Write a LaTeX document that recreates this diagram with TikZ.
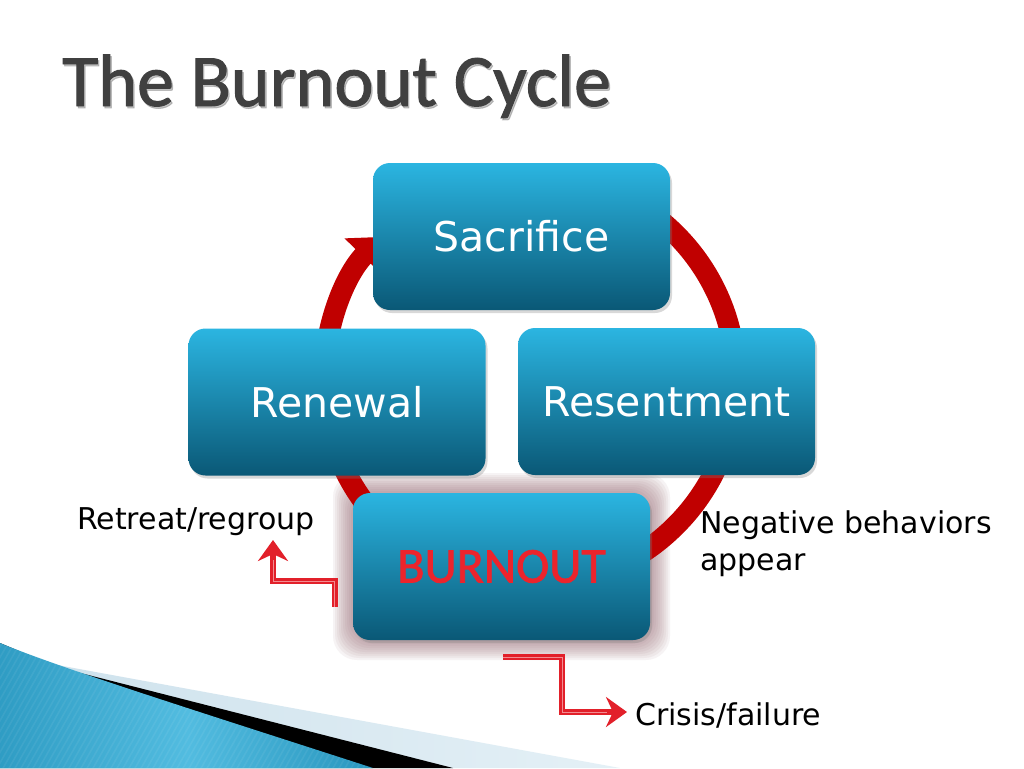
\documentclass[tikz,border=0pt]{standalone}
\usepackage{fontspec}
\setmainfont{DejaVu Sans}
\newfontfamily\titlefont[FakeBold=1.3]{Carlito}
\newfontfamily\burnfont[FakeBold=1.6]{Carlito}
\usetikzlibrary{arrows.meta,shadows,calc}
\definecolor{boxtop}{RGB}{43,181,225}
\definecolor{boxmid}{RGB}{20,140,182}
\definecolor{boxbot}{RGB}{10,88,118}
\definecolor{ringred}{RGB}{192,0,0}
\definecolor{arrred}{RGB}{226,32,42}
\definecolor{arrhl}{RGB}{242,140,145}
\definecolor{burnred}{RGB}{236,36,44}
\definecolor{titlegray}{RGB}{64,64,64}
\definecolor{glowc}{RGB}{150,105,115}
\definecolor{paleL}{RGB}{205,225,236}
\definecolor{paleR}{RGB}{228,240,246}
\definecolor{swA}{RGB}{16,104,134}
\definecolor{swB}{RGB}{40,150,190}
\definecolor{swC}{RGB}{82,188,224}
\definecolor{swD}{RGB}{30,140,180}
\pgfdeclarehorizontalshading{swoosh}{100bp}{color(0bp)=(swA); color(20bp)=(swB); color(50bp)=(swC); color(75bp)=(swB); color(100bp)=(swD)}
\begin{document}
\begin{tikzpicture}[x=1pt,y=-1pt,
  cbox/.style={rounded corners=17pt, minimum width=297pt, minimum height=147pt,
    inner sep=0pt, top color=boxtop, middle color=boxmid, bottom color=boxbot,
    text=white, font=\fontsize{41}{49}\selectfont,
    drop shadow={opacity=0.3, shadow xshift=2pt, shadow yshift=-3pt}},
  ring/.style={draw=ringred, line width=21pt, -{Triangle[width=50pt,length=27pt]}},
  smallarrow/.style={draw=arrred, line width=5.5pt,
    -{Stealth[length=21pt,width=30pt,inset=7pt]}},
  arrowlight/.style={draw=arrhl, line width=1pt, shorten >=20pt},
  lbl/.style={inner sep=0pt, text=black, font=\fontsize{30}{37}\selectfont}]
\useasboundingbox (0,0) rectangle (1024,768);
\fill[white] (0,0) rectangle (1024,768);

% bottom-left swoosh
\shade[left color=paleL, right color=paleR] (30,660) -- (620,768) -- (0,768) -- (0,655) -- cycle;
\fill[black] (0,643) -- (57,667) -- (453,768) -- (0,768) -- cycle;
\begin{scope}
  \path[clip] (0,643) .. controls (60,668) and (200,712) .. (373,768) -- (0,768) -- cycle;
  \shade[shading=swoosh] (0,640) rectangle (375,768);
  \foreach \i in {-160,-154,...,380}
    \draw[white, opacity=0.06, line width=1.6pt] (\i,770) -- (\i+75,638);
\end{scope}

% title
\node[anchor=base west, inner sep=0pt, text=gray, opacity=0.45,
  font=\titlefont\fontsize{74}{80}\selectfont] at (63.5,108) {The Burnout Cycle};
\node[anchor=base west, inner sep=0pt, text=titlegray,
  font=\titlefont\fontsize{74}{80}\selectfont] (title) at (62,106) {The Burnout Cycle};

% glow round BURNOUT
\foreach \g in {20,18,...,2}
  \fill[glowc, opacity=0.08, rounded corners=24pt] (353-\g,493-\g) rectangle (650+\g,640+\g);

% cycle ring
\draw[ring] (530,380) ++(90:206pt) arc[start angle=90, end angle=-224, radius=206pt];

% boxes
\node[cbox] (sac) at (521.5,236.5) {Sacrifice};
\node[cbox] (ren) at (337,402) {Renewal};
\node[cbox] (res) at (666.5,401.5) {Resentment};
\node[cbox, text=burnred, font=\burnfont\fontsize{50}{56}\selectfont] (burn) at (501.5,566.5) {BURNOUT};

% labels
\node[lbl, anchor=base west] (retreat) at (77,529) {Retreat/regroup};
\node[lbl, anchor=north west, align=left] (neg) at (700,510) {Negative behaviors\\appear};
\node[lbl, anchor=base west] (crisis) at (635,725) {Crisis/failure};

% small arrows
\coordinate (r0) at ($(burn.west)+(-18,40.5)$);
\coordinate (r1) at (273,540);
\draw[smallarrow] (r0) -- ++(0,-26) -| (r1);
\draw[arrowlight] (r0) -- ++(0,-26) -| (r1);
\coordinate (c0) at ($(burn.south)+(1.5,17)$);
\coordinate (c1) at (627,712);
\draw[smallarrow] (c0) -- ++(59,0) |- (c1);
\draw[arrowlight] (c0) -- ++(59,0) |- (c1);
\end{tikzpicture}
\end{document}
